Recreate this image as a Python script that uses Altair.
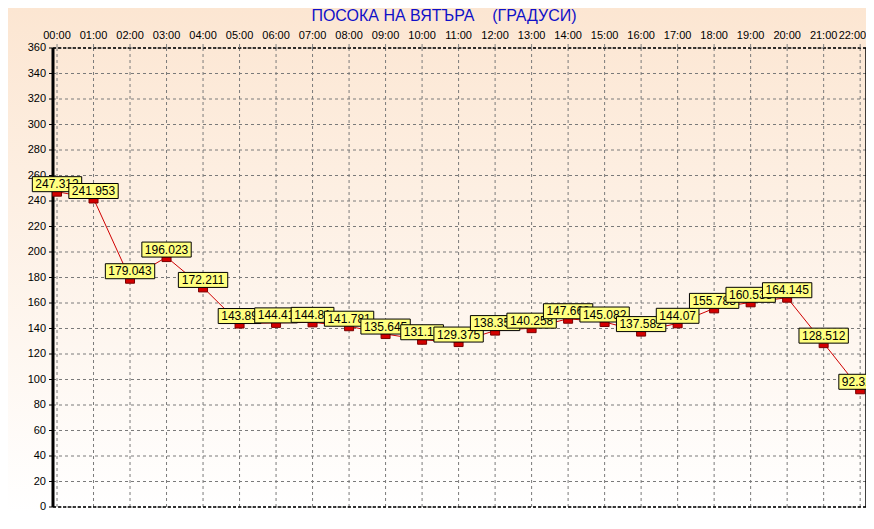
import altair as alt
import pandas as pd

hours = ["00:00", "01:00", "02:00", "03:00", "04:00", "05:00", "06:00", "07:00",
         "08:00", "09:00", "10:00", "11:00", "12:00", "13:00", "14:00", "15:00",
         "16:00", "17:00", "18:00", "19:00", "20:00", "21:00", "22:00"]
values = [247.312, 241.953, 179.043, 196.023, 172.211, 143.89, 144.41, 144.81,
          141.781, 135.645, 131.18, 129.375, 138.352, 140.258, 147.668, 145.082,
          137.582, 144.07, 155.783, 160.538, 164.145, 128.512, 92.322]
labels = ["247.312", "241.953", "179.043", "196.023", "172.211", "143.89", "144.41", "144.81",
          "141.781", "135.645", "131.18", "129.375", "138.352", "140.258", "147.668", "145.082",
          "137.582", "144.07", "155.783", "160.538", "164.145", "128.512", "92.322"]
y_ticks = list(range(0, 361, 20))
title_text = "ПОСОКА НА ВЯТЪРА\u00a0\u00a0\u00a0\u00a0(ГРАДУСИ)"

n = len(values)
df = pd.DataFrame({"idx": list(range(n)), "hour": list(range(n)), "time": hours,
                   "value": values, "label": labels})
ygrid = pd.DataFrame({"value": y_ticks})

PW, PH = 813, 459
X_MIN, X_MAX = -0.11, 22.16

x_scale = alt.Scale(domain=[X_MIN, X_MAX], nice=False, zero=False)
y_scale = alt.Scale(domain=[0, 360], nice=False, zero=True)
X = alt.X("hour:Q", scale=x_scale, axis=None)
Y = alt.Y("value:Q", scale=y_scale, axis=None)

FONT = "Liberation Sans"

gradient = alt.LinearGradient(gradient="linear", x1=0, x2=0, y1=0, y2=1,
                              stops=[alt.GradientStop(color="#FCE6D2", offset=0),
                                     alt.GradientStop(color="#FFFFFF", offset=1)])

one = pd.DataFrame({"a": [0]})
bg = alt.Chart(one).mark_rect(color=gradient).encode(
    x=alt.value(-45), x2=alt.value(PW), y=alt.value(-40), y2=alt.value(PH + 5))

title = alt.Chart(one).mark_text(text=title_text, font=FONT, fontSize=16, color="#1010C8",
                                 baseline="alphabetic", align="center").encode(
    x=alt.value(444 - 53), y=alt.value(21 - 48))

# grid
GRID = dict(color="#7a7a7a", strokeDash=[3, 3], strokeWidth=1)
hgrid = alt.Chart(ygrid).mark_rule(**GRID).encode(y=Y)
vgrid = alt.Chart(df).mark_rule(**GRID).encode(x=X)

# axis pieces (ticks and labels through the scales)
ytick = alt.Chart(ygrid).mark_rule(color="black", strokeWidth=1).encode(
    y=Y, x=alt.value(-4), x2=alt.value(0))
ylab = alt.Chart(ygrid).mark_text(font=FONT, fontSize=11, color="black", align="right",
                                  baseline="middle").encode(
    y=Y, x=alt.value(-7), text="value:Q")
xtick = alt.Chart(df).mark_rule(color="#808080", strokeWidth=1).encode(
    x=X, y=alt.value(-4), y2=alt.value(0))
xlab = alt.Chart(df).transform_filter(alt.datum.idx < n - 1).mark_text(
    font=FONT, fontSize=11, color="black", align="center", baseline="alphabetic").encode(
    x=X, y=alt.value(-9), text="time:N")
xlab_last = alt.Chart(df).transform_filter(alt.datum.idx == n - 1).mark_text(
    font=FONT, fontSize=11, color="black", align="right", baseline="alphabetic", dx=6).encode(
    x=X, y=alt.value(-9), text="time:N")

# frame
hb = pd.DataFrame({"value": [0, 360]})
vr = pd.DataFrame({"hour": [X_MAX]})
vl = pd.DataFrame({"hour": [X_MIN]})
hframe = alt.Chart(hb).mark_rule(color="black", strokeDash=[3, 2], strokeWidth=1.5).encode(y=Y)
right_rule = alt.Chart(vr).mark_rule(color="black", strokeWidth=1.5).encode(x=X)
left_rule = alt.Chart(vl).mark_rule(color="black", strokeWidth=3).encode(x=X)

base = alt.Chart(df)
line = base.mark_line(color="#D00000", strokeWidth=1).encode(x=X, y=Y)
pts = base.mark_square(size=81, fill="#D40000", stroke="#7A0000", strokeWidth=1,
                       opacity=1).encode(x=X, y=Y)

layers = [bg, title, hgrid, vgrid, hframe, right_rule, left_rule,
          ytick, ylab, xtick, xlab, xlab_last, line, pts]
for i, lab in enumerate(labels):
    w = sum(6.67 if c.isdigit() else 3.34 for c in lab) + 6
    sub = base.transform_filter(alt.datum.idx == i)
    box = sub.mark_rect(fill="#FFFF80", stroke="black", strokeWidth=1,
                        xOffset=-w / 2, x2Offset=w / 2, y2Offset=-15).encode(
        x=X, x2=alt.X2("hour:Q"), y=Y, y2=alt.Y2("value:Q"))
    txt = sub.mark_text(font=FONT, fontSize=12, color="black", baseline="middle",
                        align="center", dy=-7.5).encode(x=X, y=Y, text="label:N")
    layers += [box, txt]

chart = alt.layer(*layers).properties(
    width=PW, height=PH,
    padding={"left": 45, "top": 40, "right": 0, "bottom": 5},
    autosize=alt.AutoSizeParams(type="none"),
).configure_view(stroke=None).configure(background="#FFFFFF")

chart.save("out.html", embed_options={"renderer": "svg", "actions": False})
